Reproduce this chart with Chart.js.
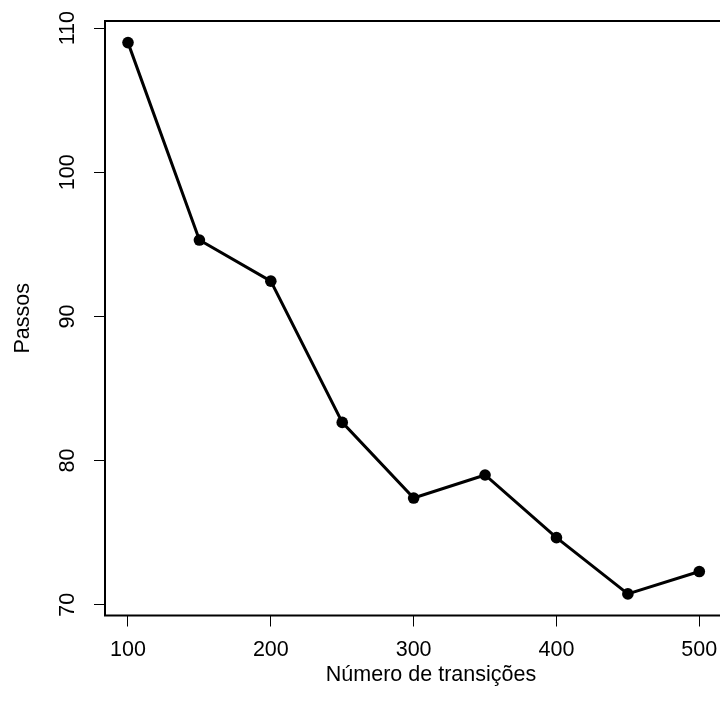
<!DOCTYPE html>
<html>
<head>
<meta charset="utf-8">
<script src="https://cdn.jsdelivr.net/npm/chart.js@4"></script>
<style>
  html, body { margin: 0; padding: 0; background: #fff; overflow: hidden; }
  canvas { display: block; }
</style>
</head>
<body>
<canvas id="grafico-passos" width="720" height="709"></canvas>
<script>
// dados
var transicoes = [100, 150, 200, 250, 300, 350, 400, 450, 500];
var passos = [109.0, 95.3, 92.45, 82.65, 77.4, 79.0, 74.65, 70.75, 72.3];
var ticksX = [100, 200, 300, 400, 500];
var ticksY = [70, 80, 90, 100, 110];

var fonte = "21.5px 'Liberation Sans', Arial, sans-serif";

// caixa (lado direito fica fora da imagem), rotulos e titulos no estilo do R
var estiloR = {
  id: "estiloR",
  afterDraw: function (chart) {
    var ctx = chart.ctx;
    var area = chart.chartArea;
    var sx = chart.scales.x;
    var sy = chart.scales.y;
    ctx.save();
    ctx.strokeStyle = "#000";
    ctx.lineWidth = 2;
    ctx.beginPath();
    ctx.moveTo(chart.width + 5, area.top);
    ctx.lineTo(area.left, area.top);
    ctx.lineTo(area.left, area.bottom);
    ctx.lineTo(chart.width + 5, area.bottom);
    ctx.stroke();

    ctx.fillStyle = "#000";
    ctx.font = fonte;
    ctx.textAlign = "center";
    ctx.textBaseline = "middle";
    ticksX.forEach(function (v) {
      ctx.fillText(String(v), sx.getPixelForValue(v), 650);
    });
    ticksY.forEach(function (v) {
      ctx.save();
      ctx.translate(68.5, sy.getPixelForValue(v));
      ctx.rotate(-Math.PI / 2);
      ctx.fillText(String(v), 0, 0);
      ctx.restore();
    });

    ctx.fillText("Número de transições", 431, 675);
    ctx.save();
    ctx.translate(23.5, (area.top + area.bottom) / 2);
    ctx.rotate(-Math.PI / 2);
    ctx.fillText("Passos", 0, 0);
    ctx.restore();
    ctx.restore();
  },
};

new Chart(document.getElementById("grafico-passos").getContext("2d"), {
  type: "line",
  data: {
    labels: transicoes,
    datasets: [
      {
        label: "Passos",
        data: transicoes.map(function (t, i) {
          return { x: t, y: passos[i] };
        }),
        borderColor: "#000",
        backgroundColor: "#000",
        borderWidth: 3,
        pointRadius: 5.8,
        pointBackgroundColor: "#000",
        pointBorderWidth: 0,
        tension: 0,
        clip: false,
      },
    ],
  },
  options: {
    responsive: false,
    animation: false,
    layout: {
      autoPadding: false,
      padding: { top: 21, right: 0, left: 0, bottom: 0 },
    },
    plugins: {
      legend: { display: false },
      title: { display: false },
      tooltip: { enabled: false },
    },
    scales: {
      x: {
        type: "linear",
        min: 83.9,
        max: 514.5,
        afterBuildTicks: function (scale) {
          scale.ticks = ticksX.map(function (v) { return { value: v }; });
        },
        afterFit: function (scale) {
          scale.height = 93.5;
        },
        ticks: { display: false },
        grid: {
          drawOnChartArea: false,
          drawTicks: true,
          tickLength: 11,
          color: "#000",
          lineWidth: 1,
        },
        border: { display: false },
      },
      y: {
        type: "linear",
        min: 69.25,
        max: 110.5,
        afterBuildTicks: function (scale) {
          scale.ticks = ticksY.map(function (v) { return { value: v }; });
        },
        afterFit: function (scale) {
          scale.width = 105;
        },
        ticks: { display: false },
        grid: {
          drawOnChartArea: false,
          drawTicks: true,
          tickLength: 11,
          color: "#000",
          lineWidth: 1,
        },
        border: { display: false },
      },
    },
  },
  plugins: [estiloR],
});
</script>
</body>
</html>
